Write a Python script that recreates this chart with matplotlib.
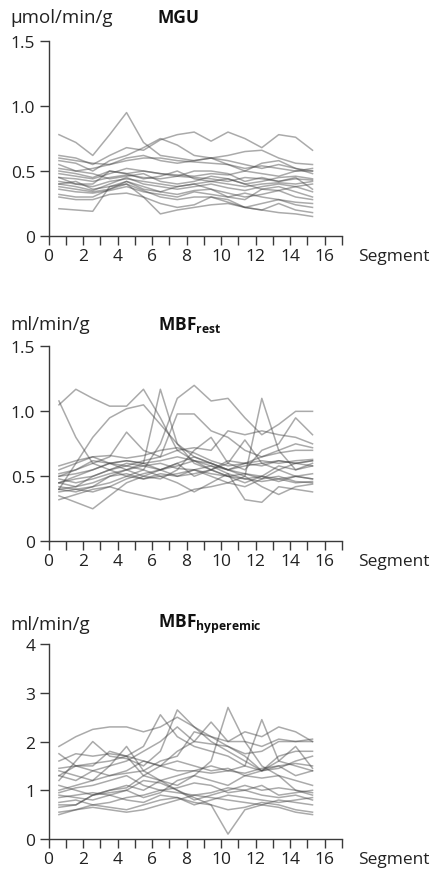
import numpy as np
import matplotlib
matplotlib.use('Agg')
import matplotlib.pyplot as plt

plt.rcParams['font.family'] = ['Open Sans', 'DejaVu Sans']
plt.rcParams['mathtext.fontset'] = 'custom'
plt.rcParams['mathtext.bf'] = 'Open Sans:bold'
plt.rcParams['mathtext.rm'] = 'Open Sans'

# position of each myocardial segment along the x axis
seg_x = [0.6, 1.58, 2.56, 3.54, 4.52, 5.5, 6.48, 7.46, 8.44, 9.42, 10.4, 11.38, 12.36, 13.34, 14.32, 15.3]

# glucose uptake per subject (umol/min/g)
mgu = [
    [0.78, 0.72, 0.62, 0.78, 0.95, 0.72, 0.62, 0.60, 0.58, 0.60, 0.58, 0.55, 0.52, 0.55, 0.52, 0.50],
    [0.62, 0.60, 0.55, 0.62, 0.68, 0.66, 0.74, 0.78, 0.80, 0.73, 0.80, 0.75, 0.68, 0.78, 0.76, 0.66],
    [0.58, 0.56, 0.50, 0.58, 0.62, 0.68, 0.75, 0.70, 0.62, 0.60, 0.62, 0.65, 0.66, 0.60, 0.56, 0.55],
    [0.55, 0.50, 0.52, 0.55, 0.58, 0.60, 0.60, 0.58, 0.57, 0.56, 0.55, 0.52, 0.54, 0.52, 0.50, 0.50],
    [0.50, 0.48, 0.45, 0.50, 0.48, 0.50, 0.48, 0.47, 0.46, 0.48, 0.47, 0.50, 0.48, 0.46, 0.50, 0.52],
    [0.45, 0.44, 0.42, 0.45, 0.47, 0.45, 0.44, 0.46, 0.45, 0.44, 0.42, 0.45, 0.44, 0.42, 0.44, 0.43],
    [0.42, 0.40, 0.38, 0.42, 0.44, 0.42, 0.40, 0.38, 0.40, 0.42, 0.40, 0.38, 0.40, 0.41, 0.40, 0.42],
    [0.40, 0.38, 0.35, 0.40, 0.45, 0.40, 0.38, 0.36, 0.38, 0.40, 0.37, 0.35, 0.38, 0.40, 0.38, 0.40],
    [0.38, 0.36, 0.34, 0.36, 0.42, 0.38, 0.34, 0.32, 0.35, 0.36, 0.33, 0.30, 0.32, 0.35, 0.30, 0.28],
    [0.32, 0.30, 0.30, 0.36, 0.40, 0.35, 0.30, 0.28, 0.30, 0.30, 0.26, 0.22, 0.25, 0.28, 0.26, 0.25],
    [0.30, 0.28, 0.28, 0.32, 0.33, 0.30, 0.25, 0.22, 0.24, 0.30, 0.28, 0.22, 0.20, 0.18, 0.17, 0.15],
    [0.21, 0.20, 0.19, 0.38, 0.40, 0.30, 0.17, 0.20, 0.22, 0.24, 0.25, 0.22, 0.20, 0.25, 0.20, 0.18],
    [0.48, 0.46, 0.44, 0.48, 0.52, 0.50, 0.48, 0.46, 0.50, 0.50, 0.48, 0.42, 0.45, 0.42, 0.45, 0.36],
    [0.52, 0.50, 0.48, 0.44, 0.46, 0.48, 0.42, 0.40, 0.42, 0.46, 0.44, 0.40, 0.36, 0.38, 0.34, 0.30],
    [0.60, 0.58, 0.56, 0.55, 0.60, 0.62, 0.58, 0.56, 0.58, 0.60, 0.55, 0.50, 0.56, 0.58, 0.52, 0.48],
    [0.40, 0.42, 0.36, 0.38, 0.42, 0.36, 0.34, 0.38, 0.40, 0.36, 0.30, 0.28, 0.36, 0.35, 0.38, 0.34],
    [0.45, 0.40, 0.40, 0.50, 0.48, 0.44, 0.46, 0.50, 0.44, 0.42, 0.44, 0.40, 0.42, 0.45, 0.46, 0.44],
    [0.36, 0.34, 0.33, 0.35, 0.38, 0.34, 0.32, 0.30, 0.34, 0.32, 0.30, 0.33, 0.30, 0.28, 0.24, 0.22],
]

# resting blood flow per subject (ml/min/g)
mbf_rest = [
    [1.05, 1.17, 1.10, 1.04, 1.04, 1.17, 0.95, 0.70, 0.62, 0.55, 0.50, 0.48, 0.46, 0.48, 0.45, 0.46],
    [0.45, 0.50, 0.55, 0.60, 0.58, 0.55, 0.75, 1.10, 1.20, 1.08, 1.10, 0.95, 0.82, 0.90, 1.00, 1.00],
    [1.08, 0.80, 0.60, 0.55, 0.50, 0.48, 0.52, 0.50, 0.55, 0.58, 0.52, 0.48, 0.50, 0.46, 0.50, 0.48],
    [0.40, 0.60, 0.80, 0.95, 1.02, 1.05, 0.90, 0.75, 0.65, 0.60, 0.55, 0.58, 0.60, 0.62, 0.60, 0.62],
    [0.50, 0.52, 0.55, 0.60, 0.62, 0.60, 1.17, 0.75, 0.60, 0.55, 0.50, 0.52, 0.50, 0.48, 0.50, 0.48],
    [0.45, 0.48, 0.50, 0.55, 0.60, 0.58, 0.55, 0.60, 0.65, 0.60, 0.55, 0.50, 1.10, 0.70, 0.55, 0.58],
    [0.50, 0.55, 0.60, 0.65, 0.84, 0.70, 0.65, 0.98, 0.98, 0.85, 0.80, 0.70, 0.65, 0.70, 0.75, 0.72],
    [0.35, 0.30, 0.25, 0.35, 0.45, 0.50, 0.55, 0.60, 0.50, 0.55, 0.62, 0.60, 0.58, 0.62, 0.60, 0.62],
    [0.42, 0.40, 0.38, 0.42, 0.48, 0.52, 0.55, 0.58, 0.62, 0.60, 0.55, 0.52, 0.48, 0.50, 0.46, 0.45],
    [0.38, 0.40, 0.42, 0.50, 0.55, 0.60, 0.62, 0.65, 0.62, 0.58, 0.55, 0.60, 0.62, 0.60, 0.62, 0.63],
    [0.55, 0.60, 0.65, 0.66, 0.64, 0.66, 0.70, 0.72, 0.68, 0.62, 0.58, 0.60, 0.65, 0.68, 0.70, 0.70],
    [0.40, 0.38, 0.42, 0.45, 0.50, 0.55, 0.50, 0.45, 0.38, 0.45, 0.52, 0.32, 0.30, 0.42, 0.40, 0.38],
    [0.32, 0.36, 0.40, 0.42, 0.38, 0.35, 0.32, 0.35, 0.40, 0.42, 0.45, 0.50, 0.42, 0.36, 0.42, 0.44],
    [0.52, 0.55, 0.62, 0.60, 0.62, 0.60, 0.55, 0.50, 0.52, 0.55, 0.60, 0.78, 0.60, 0.55, 0.60, 0.58],
    [0.45, 0.42, 0.50, 0.55, 0.58, 0.62, 0.65, 0.70, 0.72, 0.70, 0.85, 0.82, 0.85, 0.82, 0.80, 0.75],
    [0.58, 0.62, 0.65, 0.60, 0.55, 0.50, 0.48, 0.55, 0.70, 0.80, 0.60, 0.55, 0.70, 0.75, 0.95, 0.82],
    [0.40, 0.42, 0.45, 0.50, 0.52, 0.48, 0.50, 0.52, 0.55, 0.50, 0.45, 0.42, 0.48, 0.55, 0.50, 0.52],
    [0.48, 0.45, 0.48, 0.52, 0.55, 0.58, 0.60, 0.56, 0.55, 0.52, 0.50, 0.45, 0.50, 0.58, 0.55, 0.60],
]

# hyperemic blood flow per subject (ml/min/g)
mbf_hyper = [
    [1.30, 1.50, 1.55, 1.60, 1.70, 1.90, 2.55, 2.10, 1.90, 1.80, 1.70, 1.50, 1.40, 1.50, 1.55, 1.50],
    [1.90, 2.10, 2.25, 2.30, 2.30, 2.20, 2.30, 2.50, 2.30, 2.10, 2.00, 2.00, 1.90, 2.05, 2.00, 2.05],
    [1.20, 1.60, 2.00, 1.70, 1.65, 1.50, 1.80, 2.65, 2.30, 2.00, 1.80, 1.60, 1.40, 1.60, 1.90, 1.45],
    [0.70, 0.70, 0.90, 1.00, 1.10, 1.00, 1.20, 1.10, 1.30, 1.60, 2.70, 2.00, 1.50, 1.30, 1.00, 0.90],
    [0.90, 0.85, 0.80, 0.90, 1.00, 1.20, 1.15, 1.00, 0.85, 0.70, 0.10, 0.60, 0.70, 0.80, 0.75, 0.70],
    [1.40, 1.30, 1.20, 1.30, 1.40, 1.60, 1.50, 1.40, 1.40, 1.50, 1.40, 1.50, 2.45, 1.60, 1.50, 1.40],
    [0.50, 0.60, 0.65, 0.60, 0.55, 0.60, 0.70, 0.80, 0.90, 0.85, 0.80, 0.75, 0.70, 0.65, 0.55, 0.50],
    [1.00, 1.10, 1.20, 1.50, 1.90, 1.40, 1.60, 1.70, 2.20, 2.10, 1.90, 1.75, 1.80, 2.00, 2.00, 2.00],
    [0.65, 0.70, 0.90, 1.00, 1.05, 1.30, 1.20, 1.00, 0.80, 0.90, 1.00, 1.10, 1.00, 1.05, 1.00, 0.95],
    [1.60, 1.75, 1.70, 1.75, 1.70, 1.30, 1.50, 1.80, 2.00, 1.95, 1.90, 1.70, 1.40, 1.45, 1.60, 1.70],
    [1.10, 1.00, 0.90, 0.95, 1.00, 0.85, 0.95, 1.20, 1.30, 1.20, 1.10, 1.30, 1.25, 1.30, 1.20, 1.10],
    [0.85, 0.90, 0.95, 0.90, 0.80, 0.75, 0.90, 0.85, 0.70, 0.80, 0.90, 0.85, 0.80, 0.75, 0.80, 0.85],
    [1.30, 1.20, 1.40, 1.50, 1.60, 1.80, 2.00, 2.30, 2.00, 2.40, 2.00, 2.20, 2.10, 2.30, 2.20, 2.00],
    [0.55, 0.60, 0.70, 0.65, 0.60, 0.70, 0.80, 0.85, 0.75, 0.70, 0.60, 0.65, 0.75, 0.70, 0.60, 0.55],
    [1.45, 1.50, 1.40, 1.30, 1.35, 1.40, 1.20, 1.30, 1.40, 1.35, 1.40, 1.35, 1.45, 1.50, 1.30, 1.40],
    [1.75, 1.50, 1.50, 1.80, 1.70, 1.60, 1.50, 1.60, 1.50, 1.40, 1.45, 1.30, 1.40, 1.70, 1.80, 1.80],
    [0.95, 1.05, 1.10, 1.20, 1.30, 1.10, 1.00, 1.05, 1.15, 1.10, 0.95, 1.00, 1.10, 0.90, 0.95, 1.00],
    [0.75, 0.80, 0.70, 0.75, 0.85, 0.90, 1.00, 0.95, 0.90, 0.95, 1.05, 1.00, 0.90, 0.85, 0.90, 0.80],
]

panels = [
    (mgu, 1.5, [0, 0.5, 1.0, 1.5], ['0', '0.5', '1.0', '1.5'], 'µmol/min/g', 'MGU'),
    (mbf_rest, 1.5, [0, 0.5, 1.0, 1.5], ['0', '0.5', '1.0', '1.5'], 'ml/min/g', r'MBF$_{\mathbf{rest}}$'),
    (mbf_hyper, 4, [0, 1, 2, 3, 4], ['0', '1', '2', '3', '4'], 'ml/min/g', r'MBF$_{\mathbf{hyperemic}}$'),
]
ax_bottoms = [0.7276, 0.3767, 0.0345]
head_y = [0.979, 0.626, 0.282]

fig = plt.figure(figsize=(4.3, 8.7), dpi=100)
axis_col = '#3a3a3a'
fs = 12.5

for (data, ymax, yt, ylab, unit, title), b, hy in zip(panels, ax_bottoms, head_y):
    ax = fig.add_axes([0.113, b, 0.682, 0.224])
    for row in data:
        ax.plot(seg_x, row, color='#444444', lw=1.1, alpha=0.45)
    ax.set_xlim(0, 17)
    ax.set_ylim(0, ymax)
    ax.spines['top'].set_visible(False)
    ax.spines['right'].set_visible(False)
    for s in ['left', 'bottom']:
        ax.spines[s].set_color(axis_col)
        ax.spines[s].set_linewidth(1.0)
    ax.set_xticks(range(18))
    ax.set_xticklabels([str(i) if i % 2 == 0 else '' for i in range(18)])
    ax.set_yticks(yt)
    ax.set_yticklabels(ylab)
    ax.tick_params(axis='both', direction='out', length=6.5, width=1.0,
                   color=axis_col, labelsize=fs, labelcolor='#222')
    ax.tick_params(axis='x', pad=2)
    ax.tick_params(axis='y', pad=3)
    ax.annotate('Segment', xy=(1, 0), xycoords='axes fraction', xytext=(11.5, -14.5),
                textcoords='offset points', ha='left', va='center', fontsize=fs, color='#222')
    fig.text(0.023, hy, unit, ha='left', va='center', fontsize=fs + 1, color='#222')
    fig.text(0.367, hy, title, ha='left', va='center', fontsize=fs, fontweight='bold', color='#111')

fig.savefig('out.png', dpi=100)
